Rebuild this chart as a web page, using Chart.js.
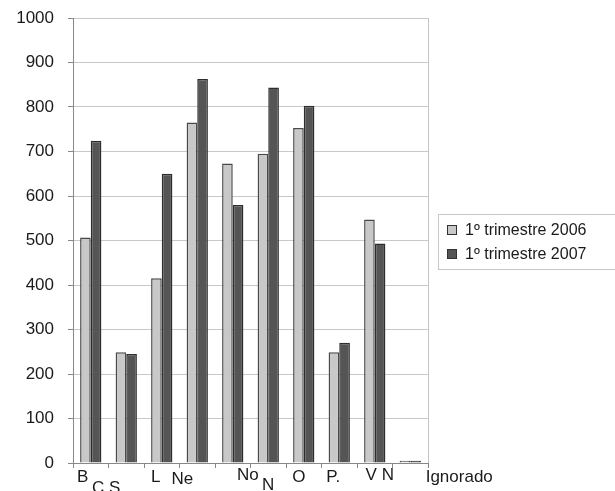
<!DOCTYPE html>
<html>
<head>
<meta charset="utf-8">
<script src="https://cdn.jsdelivr.net/npm/chart.js@4.4.1/dist/chart.umd.min.js"></script>
<style>
  html, body { margin: 0; padding: 0; background: #fff; }
  #wrap { width: 615px; height: 491px; position: relative; }
</style>
</head>
<body>
<div id="wrap"><canvas id="c" width="615" height="491"></canvas></div>
<script>
// Dados
const categories = ['B', 'C.S', 'L', 'Ne', 'No', 'N', 'O', 'P.', 'V N', 'Ignorado'];
const serie2006  = [507, 249, 415, 765, 673, 695, 753, 249, 547, 5];
const serie2007  = [724, 245, 650, 863, 580, 844, 803, 270, 493, 5];
const seriesNames = ['1º trimestre 2006', '1º trimestre 2007'];
const yTicks = [0, 100, 200, 300, 400, 500, 600, 700, 800, 900, 1000];

// deslocamento dos rótulos do eixo x (o original tem os rótulos desencontrados)
const labelShift = [[-8, 0], [-20, 11], [-6, 0], [-15, 2], [15, -2], [0, 8], [-5, 0], [-6, 0], [5, -2], [49, 0]];

const FONT = '"Liberation Sans", Arial, sans-serif';

const extras = {
  id: 'extras',
  afterDraw(chart) {
    const { ctx, chartArea: a } = chart;
    const x = chart.scales.x;
    ctx.save();
    // borda direita da área do gráfico
    ctx.strokeStyle = '#c4c4c4';
    ctx.lineWidth = 1;
    ctx.beginPath();
    ctx.moveTo(Math.round(a.right) + 0.5, a.top);
    ctx.lineTo(Math.round(a.right) + 0.5, a.bottom);
    ctx.stroke();

    // rótulos das categorias
    ctx.fillStyle = '#1a1a1a';
    ctx.font = '17px ' + FONT;
    ctx.textAlign = 'center';
    ctx.textBaseline = 'middle';
    categories.forEach((c, i) => {
      const [dx, dy] = labelShift[i];
      ctx.fillText(c, x.getPixelForValue(i) + dx, a.bottom + 14 + dy);
    });

    // legenda com moldura
    ctx.strokeStyle = '#c8c8c8';
    ctx.strokeRect(438.5, 214.5, 180, 55);
    ctx.font = '16px ' + FONT;
    ctx.textAlign = 'left';
    chart.data.datasets.forEach((ds, i) => {
      const y = 230 + i * 24;
      ctx.fillStyle = ds.backgroundColor;
      ctx.fillRect(447, y - 5, 10, 10);
      ctx.strokeStyle = '#333';
      ctx.strokeRect(447.5, y - 4.5, 9, 9);
      ctx.fillStyle = '#1a1a1a';
      ctx.fillText(ds.label, 465, y + 1);
    });
    ctx.restore();
  }
};

new Chart(document.getElementById('c'), {
  type: 'bar',
  data: {
    labels: categories,
    datasets: [
      {
        label: seriesNames[0],
        data: serie2006,
        backgroundColor: '#c8c8c8',
        borderColor: '#4a4a4a',
        borderWidth: 1.5
      },
      {
        label: seriesNames[1],
        data: serie2007,
        backgroundColor: '#555555',
        borderColor: '#2e2e2e',
        borderWidth: 1.5
      }
    ]
  },
  options: {
    responsive: false,
    animation: false,
    devicePixelRatio: 1,
    layout: { padding: { top: 18, right: 187, left: 0, bottom: 0 } },
    plugins: { legend: { display: false }, tooltip: { enabled: false } },
    datasets: { bar: { barPercentage: 1, categoryPercentage: 0.6 } },
    scales: {
      x: {
        grid: { display: true, drawOnChartArea: false, offset: true, tickLength: 5, color: '#888' },
        border: { color: '#888' },
        ticks: { display: false },
        afterFit: s => { s.height = 28; }
      },
      y: {
        min: 0,
        max: 1000,
        afterBuildTicks: s => { s.ticks = yTicks.map(v => ({ value: v })); },
        grid: { color: '#c8c8c8', tickColor: '#888', tickLength: 5 },
        border: { color: '#888' },
        ticks: {
          color: '#1a1a1a',
          font: { family: FONT, size: 17 },
          padding: 14,
          callback: v => String(v)
        },
        afterFit: s => { s.width = 73; s.paddingTop = 0; s.paddingBottom = 0; }
      }
    }
  },
  plugins: [extras]
});
</script>
</body>
</html>
